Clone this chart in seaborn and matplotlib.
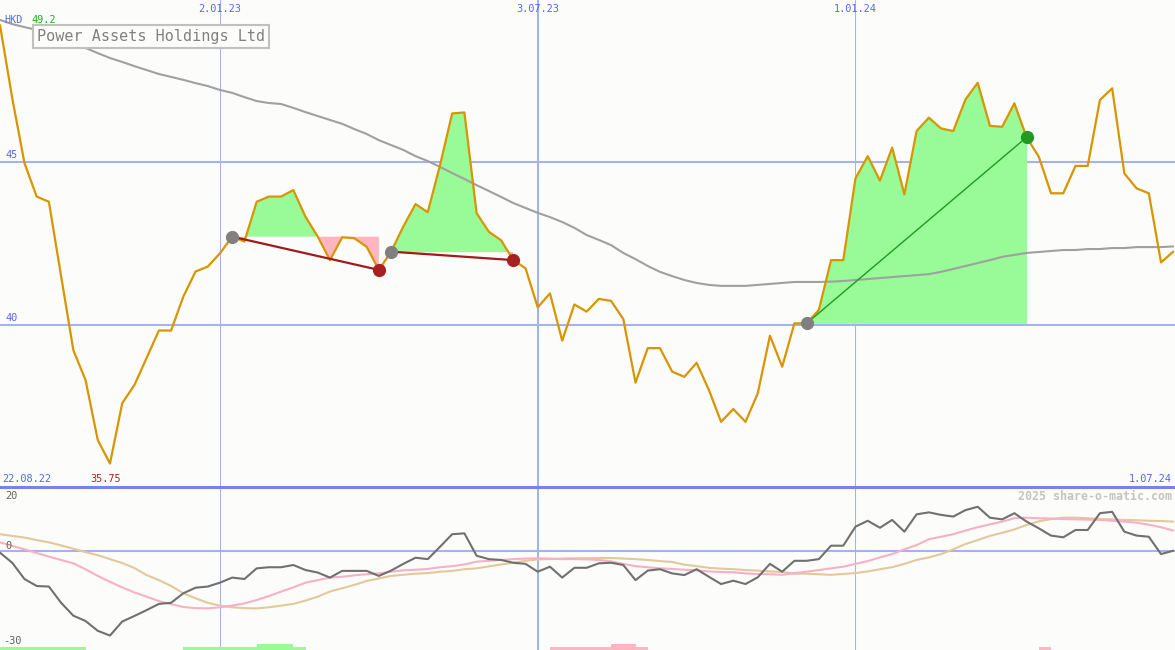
import pandas as pd
import matplotlib.pyplot as plt
import matplotlib.transforms as mtransforms
import seaborn as sns

# weekly closes, HKD
dates = pd.date_range("2022-08-29", periods=97, freq="7D")
price = [49.2, 46.96, 44.97, 43.94, 43.78, 41.5, 39.23, 38.31, 36.47, 35.75,
         37.6, 38.16, 38.99, 39.83, 39.83, 40.87, 41.64, 41.79, 42.2, 42.71,
         42.56, 43.78, 43.94, 43.94, 44.14, 43.32, 42.71, 41.99, 42.69, 42.66,
         42.4, 41.69, 42.25, 43.02, 43.71, 43.46, 44.9, 46.49, 46.52, 43.43,
         42.86, 42.6, 41.99, 41.74, 40.54, 40.97, 39.52, 40.63, 40.41, 40.8,
         40.74, 40.18, 38.23, 39.29, 39.29, 38.57, 38.41, 38.84, 38.01, 37.03,
         37.42, 37.03, 37.9, 39.67, 38.72, 40.05, 40.05, 40.46, 41.99, 41.99,
         44.5, 45.18, 44.43, 45.44, 44.01, 45.95, 46.36, 46.03, 45.95, 46.92,
         47.43, 46.11, 46.08, 46.8, 45.76, 45.16, 44.04, 44.04, 44.88, 44.88,
         46.9, 47.26, 44.65, 44.19, 44.04, 41.92, 42.25]
moving_avg = [49.36, 49.23, 49.14, 49.05, 48.93, 48.83, 48.68, 48.5, 48.34, 48.19,
              48.07, 47.94, 47.82, 47.7, 47.61, 47.52, 47.42, 47.33, 47.21, 47.12,
              46.99, 46.87, 46.81, 46.78, 46.66, 46.53, 46.41, 46.29, 46.17, 46.01,
              45.86, 45.67, 45.52, 45.37, 45.18, 45.03, 44.85, 44.66, 44.48, 44.29,
              44.11, 43.93, 43.74, 43.59, 43.44, 43.31, 43.16, 42.98, 42.76, 42.61,
              42.45, 42.21, 42.02, 41.81, 41.63, 41.5, 41.38, 41.29, 41.23, 41.2,
              41.2, 41.2, 41.23, 41.26, 41.29, 41.32, 41.32, 41.32, 41.33, 41.35,
              41.38, 41.41, 41.44, 41.47, 41.5, 41.53, 41.56, 41.63, 41.72, 41.81,
              41.9, 41.99, 42.09, 42.15, 42.21, 42.24, 42.27, 42.3, 42.3, 42.33,
              42.33, 42.36, 42.36, 42.39, 42.39, 42.39, 42.41]

# lower panel indicators
osc = [-0.6, -4.2, -10, -12.5, -12.7, -18.5, -23.1, -25, -28.5, -30.2,
       -25.2, -23.2, -21.1, -18.9, -18.5, -15.1, -13.1, -12.7, -11.3, -9.5,
       -10, -6.2, -5.8, -5.8, -5, -6.8, -7.7, -9.5, -7.1, -7.1,
       -7.1, -8.9, -7, -4.6, -2.4, -2.9, 1.5, 6, 6.3, -1.7,
       -2.9, -3.2, -4.2, -4.6, -7.4, -5.6, -9.5, -6, -6, -4.4,
       -4.2, -5, -10.4, -7, -6.5, -8, -8.6, -6.5, -9.2, -11.8,
       -10.6, -11.8, -9.4, -4.6, -7.4, -3.5, -3.5, -2.9, 1.9, 1.9,
       8.7, 10.8, 8.3, 11.1, 6.9, 13.1, 13.8, 12.9, 12.3, 14.6,
       15.8, 11.9, 11.3, 13.5, 10.5, 8.1, 5.5, 4.9, 7.5, 7.5,
       13.5, 14, 6.9, 5.5, 5.1, -1.1, 0.1]
osc_fast = [3.1, 1.8, 0.6, -0.7, -2, -3.2, -4.4, -6.5, -8.9, -11,
            -13, -14.8, -16.3, -17.9, -19, -20, -20.4, -20.5, -20.1, -19.5,
            -18.7, -17.5, -16.1, -14.5, -13, -11.3, -10.4, -9.5, -9.2, -8.7,
            -8.3, -8, -7.4, -6.9, -6.7, -6.4, -5.8, -5.4, -4.8, -3.8,
            -3.5, -3.2, -2.9, -2.7, -2.6, -2.7, -2.9, -2.9, -3, -3.2,
            -3.7, -4.6, -5.4, -5.8, -6.2, -6.4, -6.7, -6.9, -7.3, -7.5,
            -7.6, -8, -8.2, -8.3, -8.5, -7.9, -7.4, -6.8, -6.2, -5.6,
            -4.6, -3.6, -2.3, -1.1, 0.6, 2.1, 4.2, 5.1, 6, 7.3,
            8.5, 9.5, 10.5, 11.7, 11.9, 11.7, 11.6, 11.4, 11.3, 11.2,
            11.1, 10.8, 10.5, 10.1, 9.4, 8.5, 7.3]
osc_slow = [6, 5.4, 4.8, 3.9, 3.1, 2, 0.8, -0.4, -1.5, -2.9,
            -4.3, -6.1, -8.6, -10.4, -12.5, -15.1, -16.9, -18.5, -19.5, -20.1,
            -20.4, -20.5, -20.1, -19.5, -18.9, -17.7, -16.3, -14.5, -13.3, -12.1,
            -10.7, -9.8, -8.9, -8.5, -8.1, -7.9, -7.4, -7.1, -6.5, -6.2,
            -5.5, -4.8, -4.2, -3.5, -3, -2.9, -2.7, -2.6, -2.6, -2.5,
            -2.5, -2.7, -2.9, -3.2, -3.6, -3.9, -4.9, -5.4, -6, -6.3,
            -6.5, -6.8, -7, -7.3, -7.5, -8.1, -8.1, -8.3, -8.5, -8.2,
            -7.9, -7.3, -6.5, -5.8, -4.6, -3.2, -2.3, -1.1, 0.6, 2.5,
            3.9, 5.4, 6.5, 7.7, 9.3, 10.6, 11.4, 11.9, 11.9, 11.7,
            11.4, 11.3, 11.1, 11, 10.8, 10.7, 10.5]
# weekly signal strength bars at the bottom (+ green, - pink)
signal = ([1] * 7 + [0] * 8 + [1] * 6 + [2] * 3 + [1] + [0] * 20 + [-1] * 5
          + [-2] * 2 + [-1] + [0] * 32 + [-1] + [0] * 11)

# trades: entry / exit week index
entries = [19, 32, 66]
exits = [31, 42, 84]

grid_dates = pd.to_datetime(["2023-01-02", "2023-07-03", "2024-01-01"])
grid_widths = [0.75, 1.5, 0.75]
price_levels = [40, 45]
osc_labels = ["20", "0", "-30"]
osc_label_px = [496, 546, 641]

df = pd.DataFrame({"date": dates, "price": price, "ma": moving_avg,
                   "osc": osc, "fast": osc_fast, "slow": osc_slow, "signal": signal})

sns.set_style("white")
plt.rcParams["font.family"] = ["DejaVu Sans Mono"]

W, H = 1175, 650
bg = "#fcfdfa"
blue = "#5566ee"
gridc = "#a4b2f2"


def dlabel(d):
    return f"{d.day}.{d:%m.%y}"


fig = plt.figure(figsize=(W / 100, H / 100), dpi=100, facecolor=bg)
ax = fig.add_axes([0, 163 / H, 1, 487 / H], facecolor=bg)
ax2 = fig.add_axes([0, 0, 1, 163 / H], facecolor=bg)

xlim = (dates[0], dates[-1] + pd.Timedelta(days=1))

# ---- main panel ----
for d, lw in zip(grid_dates, grid_widths):
    ax.axvline(d, color=gridc, lw=lw, zorder=0)
    ax2.axvline(d, color=gridc, lw=lw, zorder=0)
for lv in price_levels:
    ax.axhline(lv, color=gridc, lw=1.5, zorder=0)

for e, x in zip(entries, exits):
    seg = df.iloc[e:x + 1]
    level = price[e]
    ax.fill_between(seg["date"], level, seg["price"], where=seg["price"] >= level,
                    interpolate=True, color="#98fb98", lw=0, zorder=1)
    ax.fill_between(seg["date"], level, seg["price"], where=seg["price"] <= level,
                    interpolate=True, color="#ffb6c1", lw=0, zorder=1)

sns.lineplot(data=df, x="date", y="ma", ax=ax, color="#a0a0a0", lw=1.5, zorder=2)
sns.lineplot(data=df, x="date", y="price", ax=ax, color="#d99400", lw=1.6, zorder=3)

for e, x in zip(entries, exits):
    win = price[x] > price[e]
    lc = "#1f9a1f" if win else "#a01c1c"
    mc = "#229922" if win else "#a82020"
    ax.plot([dates[e], dates[x]], [price[e], price[x]], color=lc,
            lw=1.0 if win else 1.6, zorder=4)
    ax.plot(dates[e], price[e], "o", ms=9.5, color="#808080", mec="none", zorder=5)
    ax.plot(dates[x], price[x], "o", ms=9.5, color=mc, mec="none", zorder=5)

ax.set_xlim(xlim)
ax.set_ylim(35.03, 49.97)
ax.set_axis_off()

tr = mtransforms.blended_transform_factory(ax.transData, ax.transAxes)
for d in grid_dates:
    ax.text(d, 1 - 9 / 487, dlabel(d), transform=tr, ha="center", va="center",
            fontsize=7.4, color=blue)
for lv in price_levels:
    ax.text(dates[0] + pd.Timedelta(days=3), lv + 0.2, str(lv), ha="left",
            va="center", fontsize=7.4, color=blue)


def ftext(x, y, s, **kw):
    fig.text(x / W, 1 - y / H, s, va="center", **kw)


ftext(4, 20, "HKD", fontsize=7.4, color=blue)
ftext(31, 20, f"{max(price):.1f}", fontsize=7.4, color="#22aa22")
ftext(2, 479, dlabel(dates[0] - pd.Timedelta(days=7)), fontsize=7.4, color=blue)
ftext(90, 479, f"{min(price):.2f}", fontsize=7.4, color="#aa2222")
ftext(1172, 479, dlabel(dates[-1]), fontsize=7.4, color=blue, ha="right")
ftext(37, 36.5, "Power Assets Holdings Ltd", fontsize=10.9, color="#808080",
      bbox=dict(boxstyle="square,pad=0.25", fc=bg, ec="#c0c0c0", lw=1.5))

# ---- lower panel ----
ax2.axhline(0, color=gridc, lw=1.5, zorder=0)
sns.lineplot(data=df, x="date", y="slow", ax=ax2, color="#e2c89a", lw=1.5, zorder=2)
sns.lineplot(data=df, x="date", y="fast", ax=ax2, color="#f7b0c6", lw=1.5, zorder=3)
sns.lineplot(data=df, x="date", y="osc", ax=ax2, color="#707070", lw=1.5, zorder=4)

ylo, yhi = -35.36, 22.86
unit = 3 / 2.8
bar_colors = ["#98fb98" if s > 0 else "#ffb6c1" for s in signal]
ax2.bar(dates, [abs(s) * unit for s in signal], bottom=ylo, width=7, align="edge",
        color=bar_colors, lw=0, zorder=1)

ax2.set_xlim(xlim)
ax2.set_ylim(ylo, yhi)
ax2.set_xticks([])
ax2.set_yticks([])
ax2.set_xlabel("")
ax2.set_ylabel("")
for side in ["left", "right", "bottom"]:
    ax2.spines[side].set_visible(False)
ax2.spines["top"].set_color("#7484ec")
ax2.spines["top"].set_linewidth(2.2)

for lab, ypx in zip(osc_labels, osc_label_px):
    ftext(3 if lab.startswith("-") else 5, ypx, lab, fontsize=7.4, color="#606060")
ftext(1172, 496, "2025 share-o-matic.com", fontsize=8.4, color="#c4c4c4",
      fontweight="bold", ha="right")

fig.savefig("out.png", dpi=100, facecolor=bg)
